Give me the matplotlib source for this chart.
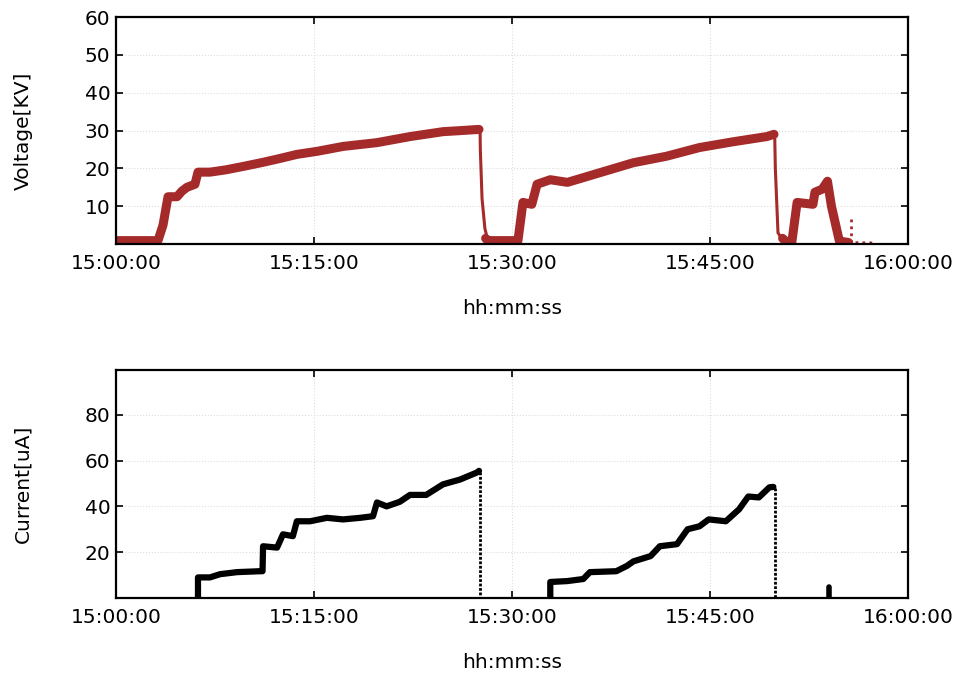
import matplotlib.pyplot as plt

# minutes after 15:00:00
volt_run_t = [
    [0.0, 3.18, 3.56, 3.94, 4.62, 5.0, 5.38, 5.98, 6.21, 7.12, 8.3, 9.62, 11.14, 12.4,
     13.71, 15.23, 17.2, 19.77, 22.27, 24.77, 26.2, 27.5],
    [28.0, 28.18, 30.45, 30.83, 31.5, 31.9, 32.9, 34.2, 36.7, 39.2, 41.7, 44.2, 46.7,
     49.3, 49.85],
    [50.5, 50.8, 51.2, 51.6, 52.8, 52.95, 53.5, 53.9, 54.2, 54.8, 55.5],
]
volt_run_v = [
    [0.9, 0.9, 5.0, 12.5, 12.5, 14.0, 15.0, 15.8, 19.0, 19.0, 19.6, 20.5, 21.6, 22.6,
     23.7, 24.5, 25.8, 26.8, 28.4, 29.7, 30.0, 30.3],
    [1.5, 0.9, 0.9, 11.0, 10.5, 15.8, 17.0, 16.3, 18.9, 21.5, 23.2, 25.5, 27.0,
     28.4, 29.0],
    [1.5, 0.5, 0.5, 11.0, 10.5, 13.7, 14.5, 16.6, 10.0, 0.8, 0.4],
]
volt_drop_t = [[27.58, 27.6, 27.73, 27.95, 28.18], [49.9, 49.95, 50.15, 50.5, 50.8]]
volt_drop_v = [[30.3, 25.0, 12.0, 4.0, 0.9], [29.0, 20.0, 3.0, 1.0, 0.5]]
volt_spike_t = [55.7, 55.7, 57.3]
volt_spike_v = [6.5, 0.3, 0.3]

curr_run_t = [
    [6.21, 6.21, 7.12, 7.88, 9.17, 10.91, 11.1, 11.14, 12.2, 12.65, 13.4, 13.7, 14.7,
     15.98, 17.2, 18.5, 19.47, 19.77, 20.5, 21.5, 22.27, 23.5, 24.77, 26.06, 27.35, 27.5],
    [32.9, 32.9, 34.2, 35.4, 35.9, 37.9, 38.7, 39.2, 40.5, 41.2, 42.5, 43.3, 44.2, 44.9,
     46.2, 47.2, 47.9, 48.7, 49.5, 49.8],
]
curr_run_v = [
    [0.5, 9.0, 9.0, 10.4, 11.3, 11.7, 11.7, 22.6, 22.0, 27.8, 27.0, 33.5, 33.5,
     35.0, 34.3, 35.0, 35.7, 41.7, 40.0, 42.0, 45.0, 45.0, 49.6, 51.7, 54.8, 55.5],
    [0.5, 7.0, 7.4, 8.3, 11.3, 11.7, 14.0, 16.0, 18.3, 22.6, 23.5, 30.0, 31.3, 34.3,
     33.5, 38.7, 44.3, 43.9, 48.3, 48.5],
]
curr_drop_t = [[27.58, 27.58], [49.9, 49.9]]
curr_drop_v = [[55.0, 0.0], [48.0, 0.0]]
curr_blip_t = [54.0, 54.0]
curr_blip_v = [4.8, 0.3]

xticks = [0, 15, 30, 45, 60]
xticklabels = ["15:00:00", "15:15:00", "15:30:00", "15:45:00", "16:00:00"]

red = "#a52a2a"
fs = 14.5
plt.rcParams["font.family"] = "DejaVu Sans"

fig = plt.figure(figsize=(9.58, 6.73), dpi=100)
ax1 = fig.add_axes([0.1211, 0.6374, 0.8267, 0.3373])
ax2 = fig.add_axes([0.1211, 0.1114, 0.8267, 0.3388])

for t, v in zip(volt_run_t, volt_run_v):
    ax1.plot(t, v, color=red, lw=6.5, solid_capstyle="round", solid_joinstyle="round")
for t, v in zip(volt_drop_t, volt_drop_v):
    ax1.plot(t, v, color=red, lw=2.2)
ax1.plot(volt_spike_t[:2], volt_spike_v[:2], color=red, lw=2, ls=(0, (1, 1.5)))
ax1.plot([55.5, volt_spike_t[2]], [0.4, volt_spike_v[2]], color=red, lw=2, ls=(0, (1, 1.5)))

for t, v in zip(curr_run_t, curr_run_v):
    ax2.plot(t, v, color="black", lw=4.5, solid_capstyle="round", solid_joinstyle="round")
for t, v in zip(curr_drop_t, curr_drop_v):
    ax2.plot(t, v, color="black", lw=2, ls=(0, (1, 0.6)))
ax2.plot(curr_blip_t, curr_blip_v, color="black", lw=4, solid_capstyle="round")

ax1.set_ylim(0, 60)
ax1.set_yticks([10, 20, 30, 40, 50, 60])
ax1.set_ylabel("Voltage[KV]", fontsize=fs)
ax2.set_ylim(0, 99.5)
ax2.set_yticks([20, 40, 60, 80])
ax2.set_ylabel("Current[uA]", fontsize=fs)

for ax in (ax1, ax2):
    ax.set_xlim(0, 60)
    ax.set_xticks(xticks)
    ax.set_xticklabels(xticklabels)
    ax.set_xlabel("hh:mm:ss", fontsize=fs, labelpad=19)
    ax.yaxis.set_label_coords(-0.105, 0.5)
    ax.tick_params(direction="in", length=5, width=1.2, labelsize=fs,
                   top=True, right=True)
    ax.tick_params(axis="x", pad=7)
    ax.tick_params(axis="y", pad=4)
    ax.grid(True, color="#dddddd", ls=":", lw=0.8)
    for s in ax.spines.values():
        s.set_linewidth(1.6)

fig.savefig("out.png", dpi=100)
